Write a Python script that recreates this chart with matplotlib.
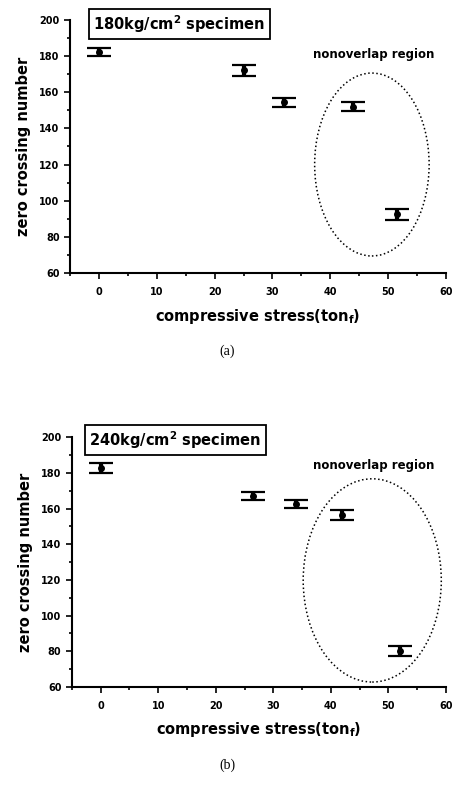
import matplotlib
matplotlib.use("Agg")
import matplotlib.pyplot as plt
from matplotlib.patches import Ellipse
from matplotlib.ticker import MultipleLocator

plt.rcParams['font.family'] = ['DejaVu Sans']

# Data (a)
xa = [0, 25, 32, 44, 51.5]
ya = [182, 172, 154.5, 152, 92.5]
ea = [2.2, 3.0, 2.5, 2.5, 3.0]
# Data (b)
xb = [0, 26.5, 34, 42, 52]
yb = [182.6, 167, 162.5, 156.5, 80]
eb = [2.8, 2.2, 2.2, 2.8, 2.8]

titles = ["180kg/cm$^\\mathbf{2}$ specimen", "240kg/cm$^\\mathbf{2}$ specimen"]
captions = ["(a)", "(b)"]

fig = plt.figure(figsize=(4.55, 7.85), dpi=100)
ax1 = fig.add_axes([0.154, 0.652, 0.826, 0.323])
ax2 = fig.add_axes([0.158, 0.125, 0.822, 0.318])

ell = [(47.2, 120, 19.8, 101), (47.2, 119.7, 24, 114)]
txt_y = [181, 184]
box_pos = [(13.9, 197.5), (13.0, 198.5)]
cap_y = [0.552, 0.025]

for i, (ax, x, y, e) in enumerate([(ax1, xa, ya, ea), (ax2, xb, yb, eb)]):
    ax.errorbar(x, y, yerr=e, fmt='o', color='black', ms=4, capsize=8.5,
                elinewidth=3, capthick=1.6)
    ax.set_xlim(-5, 60)
    ax.set_ylim(60, 200)
    ax.spines['top'].set_visible(False)
    ax.spines['right'].set_visible(False)
    ax.spines['left'].set_linewidth(1.5)
    ax.spines['bottom'].set_linewidth(1.5)
    ax.xaxis.set_major_locator(MultipleLocator(10))
    ax.xaxis.set_minor_locator(MultipleLocator(5))
    ax.yaxis.set_major_locator(MultipleLocator(20))
    ax.yaxis.set_minor_locator(MultipleLocator(10))
    ax.tick_params(which='both', direction='out', width=1.2, labelsize=7)
    ax.tick_params(which='major', length=4)
    ax.tick_params(which='minor', length=2.5)
    ax.tick_params(axis='x', pad=6)
    for lab in ax.get_xticklabels() + ax.get_yticklabels():
        lab.set_fontweight('bold')
    ax.set_xlabel("compressive stress(ton$_\\mathbf{f}$)", fontsize=10.5, fontweight='bold', labelpad=7)
    ax.set_ylabel("zero crossing number", fontsize=10.5, fontweight='bold', labelpad=6)
    cx, cy, w, h = ell[i]
    ax.add_patch(Ellipse((cx, cy), w, h, fill=False, ls=':', lw=1.1, color='black'))
    ax.text(47.5, txt_y[i], "nonoverlap region", ha='center', va='center',
            fontsize=8.5, fontweight='bold')
    bx, by = box_pos[i]
    ax.text(bx, by, titles[i], ha='center', va='center', fontsize=10.5, fontweight='bold',
            bbox=dict(boxstyle='square,pad=0.3', fc='white', ec='black', lw=1.3),
            clip_on=False, zorder=5)
    fig.text(0.5, cap_y[i], captions[i], ha='center', va='center', fontsize=10,
             family=['Liberation Serif', 'DejaVu Serif'])

fig.savefig("out.png", dpi=100)
